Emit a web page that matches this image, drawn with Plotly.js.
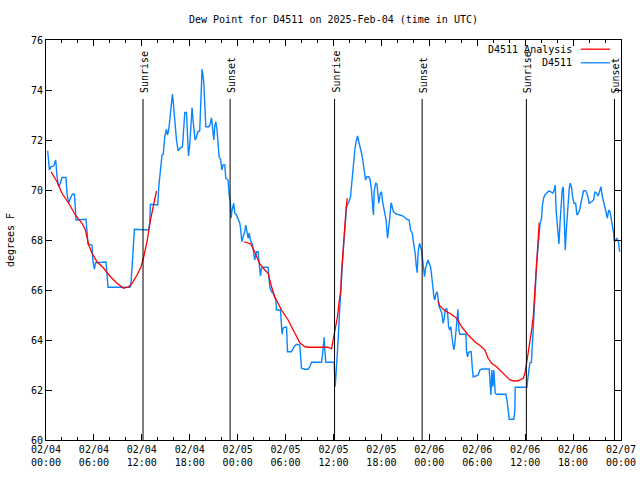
<!DOCTYPE html>
<html>
<head>
<meta charset="utf-8">
<script src="https://cdn.plot.ly/plotly-3.0.1.min.js"></script>
<style>html,body{margin:0;padding:0;background:#fff;}#chart{width:640px;height:480px;}</style>
</head>
<body>
<div id="chart"></div>
<script>
// Hours since 2025-02-04 00:00 UTC
var stationHours = [0.21,0.43,0.63,0.96,1.22,1.38,1.59,1.80,2.00,2.51,2.63,2.84,3.06,3.31,3.56,3.68,3.76,5.01,5.14,5.26,5.76,5.89,6.06,6.19,7.52,7.64,7.77,10.49,10.61,10.77,10.99,11.07,12.83,12.99,13.08,13.99,14.12,14.33,14.53,14.68,14.87,15.08,15.21,15.37,15.50,15.71,15.83,15.91,16.12,16.34,16.54,16.84,17.09,17.25,17.38,17.59,17.66,17.84,18.00,18.13,18.29,18.41,18.54,18.67,18.84,19.00,19.25,19.38,19.54,19.67,19.76,19.88,20.01,20.42,20.59,20.72,20.84,21.01,21.13,21.26,21.42,21.55,21.67,21.88,22.01,22.17,22.39,22.51,22.80,22.92,23.10,23.17,23.30,23.51,23.64,23.85,24.05,24.27,24.39,24.52,24.68,24.89,25.02,25.18,25.31,25.43,25.61,25.86,26.02,26.14,26.36,26.56,26.68,26.86,26.98,27.18,27.81,28.02,28.24,28.44,28.78,28.86,29.36,29.49,29.56,29.69,29.90,30.12,30.24,30.74,31.07,31.37,31.78,31.99,32.41,32.82,33.03,33.25,34.50,34.62,34.75,34.83,34.91,35.04,36.08,36.17,36.20,36.29,36.42,36.58,36.75,36.88,37.00,37.13,37.26,37.33,37.51,37.63,37.76,37.92,38.13,38.26,38.38,38.51,38.67,38.83,39.01,39.17,39.34,39.51,39.67,39.84,40.01,40.18,40.43,40.59,40.76,40.93,41.01,41.09,41.27,41.43,41.56,41.68,41.84,42.02,42.14,42.27,42.43,42.59,42.77,42.93,43.06,43.22,43.50,43.89,44.72,45.15,45.47,45.65,45.87,46.06,46.23,46.35,46.48,46.60,46.78,47.03,47.15,47.28,47.40,47.53,47.82,47.98,48.15,48.28,48.40,48.57,48.69,48.82,48.98,49.11,49.23,49.41,49.57,49.73,49.86,49.98,50.16,50.29,50.41,50.57,50.70,50.82,50.95,51.07,51.20,51.32,51.45,51.58,51.70,51.83,52.58,52.66,52.79,52.91,53.08,53.24,53.37,53.49,53.83,54.12,54.33,54.58,55.49,55.62,55.71,55.83,55.96,56.08,56.25,56.42,57.59,57.75,57.88,58.00,58.59,58.71,58.75,60.22,60.31,60.47,60.59,60.78,60.93,61.06,61.18,61.31,61.43,61.56,61.72,61.88,62.06,62.14,62.31,62.47,62.72,62.97,63.22,63.44,63.64,63.76,63.89,64.07,64.23,64.36,64.48,64.64,64.77,64.89,65.02,65.14,65.27,65.39,65.52,65.64,65.82,65.94,66.11,66.32,66.48,66.64,66.82,66.98,67.14,67.31,67.57,67.73,67.89,68.02,68.32,68.57,68.73,68.94,69.14,69.32,69.49,69.65,69.83,70.00,70.12,70.29,70.46,70.62,70.75,70.91,71.08,71.16,71.33,71.49,71.68,71.83];
var stationDew = [71.57,70.8,70.93,70.96,71.2,70.53,70.13,70.27,70.5,70.5,69.87,69.47,69.67,69.83,69.83,69.2,68.8,68.83,68.27,67.83,67.8,67.13,66.83,67.09,67.12,66.4,66.11,66.11,66.16,66.87,67.93,68.43,68.4,68.67,69.43,69.4,70.13,70.67,71.4,71.43,72.13,72.43,72.2,72.4,72.8,73.47,73.84,73.6,72.8,72.0,71.57,71.69,71.73,72.8,73.1,73.1,72.53,71.36,71.8,72.4,73.3,72.8,72.33,72.0,72.11,72.33,72.36,73.2,74.83,74.56,74.27,73.47,72.53,72.53,72.67,72.89,72.6,72.0,72.53,72.73,72.4,71.73,71.33,71.2,70.8,71.0,71.0,70.47,70.4,69.87,69.47,68.87,69.2,69.47,69.07,69.0,68.8,68.67,68.4,67.93,68.13,68.33,68.6,68.33,68.07,68.27,68.0,67.8,67.47,67.2,67.53,67.53,67.07,66.56,66.87,66.91,66.91,66.13,65.93,65.87,65.6,65.2,65.2,64.47,64.23,64.47,64.51,64.51,63.53,63.53,63.73,63.83,63.8,62.87,62.83,62.83,62.93,63.11,63.11,63.4,63.73,64.11,63.6,63.11,63.11,62.6,62.13,62.5,63.47,64.0,65.07,66.0,66.67,67.13,67.73,68.2,68.8,69.33,69.4,69.53,69.73,70.2,70.87,71.27,71.6,71.93,72.16,71.93,71.73,71.47,71.2,70.8,70.4,70.53,70.53,70.4,70.0,69.27,69.0,69.93,70.27,70.24,69.73,69.47,69.84,69.93,69.53,69.27,69.0,68.8,68.07,68.47,68.93,69.49,69.13,69.04,68.96,68.83,68.8,68.4,68.27,67.8,67.47,67.0,66.69,67.53,67.87,67.57,67.2,66.93,66.53,66.87,67.2,67.07,66.93,66.6,66.13,65.73,65.6,65.84,65.93,65.6,65.33,65.2,65.07,64.67,64.83,65.2,65.27,65.07,64.53,64.4,64.53,64.13,63.8,63.6,63.87,64.27,64.93,65.23,64.4,64.23,64.23,63.53,63.33,63.5,63.53,63.53,62.93,62.53,62.56,62.6,62.8,62.84,62.84,62.13,61.8,62.8,62.13,62.8,61.87,61.83,61.83,61.53,61.13,60.83,60.83,61.2,62.11,62.11,62.4,62.8,63.09,63.1,63.87,64.8,65.47,66.27,67.0,67.73,68.13,68.67,68.87,69.33,69.67,69.8,69.87,69.97,69.93,69.87,70.0,70.2,69.13,68.53,67.84,68.67,69.2,70.0,70.13,68.8,67.6,68.33,69.07,69.6,70.07,70.27,70.07,69.73,69.47,69.47,69.0,69.07,69.2,69.47,69.73,69.97,69.97,69.87,69.67,69.47,69.53,69.6,69.93,69.87,69.76,69.93,70.13,69.76,69.53,69.4,69.13,68.87,69.2,69.13,68.93,68.6,68.27,67.93,68.0,68.07,67.93,67.53];

// Analysis segments (null = gap)
var analysisHours = [0.63,1.38,2.00,2.84,3.68,4.51,4.94,5.35,5.76,6.39,7.23,8.07,8.89,9.73,10.36,10.77,11.40,11.90,12.24,12.65,13.08,13.49,13.83,18.0,
  24.77,25.30,25.61,25.93,26.36,26.77,27.40,27.81,28.24,28.65,29.06,29.49,30.32,31.16,31.78,32.41,32.82,35.33,35.75,35.95,36.25,36.50,36.70,36.92,37.00,37.21,37.42,37.58,37.71,43.0,
  49.07,49.32,49.94,50.57,51.41,52.04,52.86,53.70,54.54,54.95,55.37,55.79,56.42,57.05,57.46,58.09,58.59,59.13,59.76,59.97,60.18,60.38,60.59,60.81,61.01,61.14,61.31,61.47,61.63,61.76];
var analysisDew = [70.73,70.33,69.87,69.47,69.0,68.67,68.4,67.8,67.47,67.13,66.87,66.53,66.27,66.07,66.13,66.27,66.6,66.93,67.33,67.93,68.8,69.47,69.96,null,
  67.93,67.87,67.85,67.67,67.33,67.04,66.8,66.67,66.13,65.73,65.47,65.2,64.8,64.27,63.89,63.73,63.71,63.71,63.65,64.0,64.47,64.93,65.53,66.0,66.67,67.73,68.53,69.27,69.67,null,
  65.56,65.36,65.17,65.07,64.87,64.53,64.2,63.93,63.73,63.6,63.27,63.07,62.93,62.73,62.56,62.4,62.36,62.37,62.47,62.67,63.07,63.47,63.87,64.4,64.93,65.67,66.53,67.33,68.13,68.69];

var sunTimes = ['2025-02-04 12:09','2025-02-04 23:03','2025-02-05 12:08','2025-02-05 23:06','2025-02-06 12:09','2025-02-06 23:11'];
var sunLabels = ['Sunrise','Sunset','Sunrise','Sunset','Sunrise','Sunset'];

var BASE = Date.UTC(2025,1,4,0,0,0);
function pad(n){return (n<10?'0':'')+n;}
function toDate(h){
  var d = new Date(BASE + Math.round(h*3600000));
  return d.getUTCFullYear()+'-'+pad(d.getUTCMonth()+1)+'-'+pad(d.getUTCDate())+' '+pad(d.getUTCHours())+':'+pad(d.getUTCMinutes())+':'+pad(d.getUTCSeconds());
}

var FONT = 'DejaVu Sans Mono, Liberation Mono, monospace';
var RED = '#ff0000', BLUE = '#0a84ff';

var traces = [
  {x: stationHours.map(toDate), y: stationDew, type:'scatter', mode:'lines', line:{color:BLUE, width:1.4}, name:'D4511', hoverinfo:'skip'},
  {x: analysisHours.map(toDate), y: analysisDew, type:'scatter', mode:'lines', connectgaps:false, line:{color:RED, width:1.3}, name:'D4511 Analysis', hoverinfo:'skip'}
];

var SUN_TOP = 73.64;
var shapes = [], annotations = [];
sunTimes.forEach(function(t,i){
  shapes.push({type:'line', xref:'x', yref:'y', x0:t, x1:t, y0:60, y1:SUN_TOP, line:{color:'#000', width:1}});
  annotations.push({x:t, y:SUN_TOP, xref:'x', yref:'y', text:sunLabels[i], showarrow:false, textangle:-90, xanchor:'center', yanchor:'bottom', yshift:4, xshift:1, font:{family:FONT, size:10, color:'#000'}});
});

// manual legend (text left of sample line)
var legendItems = [{name:'D4511 Analysis', color:RED, y:0.977},{name:'D4511', color:BLUE, y:0.943}];
legendItems.forEach(function(it){
  annotations.push({xref:'paper', yref:'paper', x:0.918, y:it.y, text:it.name, showarrow:false, xanchor:'right', yanchor:'middle', font:{family:FONT, size:10, color:'#000'}, bgcolor:'rgba(0,0,0,0)'});
  shapes.push({type:'line', xref:'paper', yref:'paper', x0:0.930, x1:0.981, y0:it.y, y1:it.y, line:{color:it.color, width:1.3}});
});

var layout = {
  width:640, height:480,
  margin:{l:46, r:19, t:40, b:40},
  paper_bgcolor:'#fff', plot_bgcolor:'#fff',
  font:{family:FONT, size:10, color:'#000'},
  showlegend:false,
  title:{text:'Dew Point for D4511 on 2025-Feb-04 (time in UTC)', x:0.5, xref:'paper', y:0.96, yref:'container', yanchor:'middle', font:{family:FONT, size:10, color:'#000'}},
  xaxis:{type:'date', range:['2025-02-04 00:00','2025-02-07 00:00'], tick0:'2025-02-04 00:00', dtick:6*3600000, tickformat:'%m/%d<br>%H:%M',
    ticks:'inside', ticklen:6, tickwidth:1, tickcolor:'#000', showline:true, linecolor:'#000', linewidth:1, mirror:'allticks', showgrid:false, zeroline:false,
    minor:{dtick:2*3600000, ticks:'inside', ticklen:3, tickcolor:'#000', tickwidth:1, showgrid:false},
    tickfont:{family:FONT, size:10, color:'#000'}},
  yaxis:{range:[60,76], dtick:2, tick0:60, ticks:'inside', ticklen:6, tickwidth:1, tickcolor:'#000', showline:true, linecolor:'#000', linewidth:1, mirror:'allticks', showgrid:false, zeroline:false,
    tickfont:{family:FONT, size:10, color:'#000'},
    title:{text:'degrees F', standoff:14, font:{family:FONT, size:10, color:'#000'}}},
  shapes:shapes, annotations:annotations
};

Plotly.newPlot('chart', traces, layout, {staticPlot:true, displayModeBar:false});
</script>
</body>
</html>
